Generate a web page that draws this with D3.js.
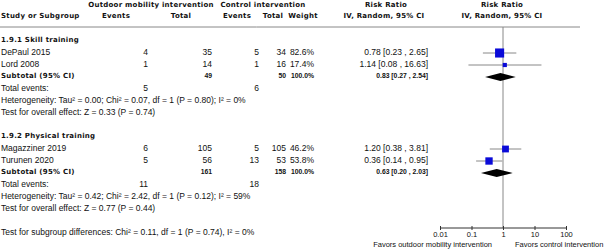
<!DOCTYPE html>
<html>
<head>
<meta charset="utf-8">
<script src="https://cdn.jsdelivr.net/npm/d3@7"></script>
<style>
  body { margin: 0; background: #fff; }
  text { font-family: "Liberation Sans", Arial, sans-serif; fill: #111; }
  .hd { font-family: "DejaVu Sans", sans-serif; font-weight: bold; font-size: 7px; letter-spacing: 0.25px; }
  .sb { font-family: "Liberation Sans", Arial, sans-serif; font-weight: bold; }
</style>
</head>
<body>
<div id="chart"></div>
<script>
// ---- data ----
const groupNames = ["1.9.1 Skill training", "1.9.2 Physical training"];
const studyNames = ["DePaul 2015", "Lord 2008", "Magazziner 2019", "Turunen 2020"];
const studyGroup = [0, 0, 1, 1];
const expEvents = [4, 1, 6, 5];
const expTotal = [35, 14, 105, 56];
const ctrlEvents = [5, 1, 5, 13];
const ctrlTotal = [34, 16, 105, 53];
const weights = [82.6, 17.4, 46.2, 53.8];
const rr = [0.78, 1.14, 1.20, 0.36];
const rrLow = [0.23, 0.08, 0.38, 0.14];
const rrHigh = [2.65, 16.63, 3.81, 0.95];

const subExpTotal = [49, 161];
const subCtrlTotal = [50, 158];
const subExpEvents = [5, 11];
const subCtrlEvents = [6, 18];
const subRR = [0.83, 0.63];
const subLow = [0.27, 0.20];
const subHigh = [2.54, 2.03];
const heterogeneity = [
  "Heterogeneity: Tau² = 0.00; Chi² = 0.07, df = 1 (P = 0.80); I² = 0%",
  "Heterogeneity: Tau² = 0.42; Chi² = 2.42, df = 1 (P = 0.12); I² = 59%"
];
const overallTest = [
  "Test for overall effect: Z = 0.33 (P = 0.74)",
  "Test for overall effect: Z = 0.77 (P = 0.44)"
];
const subgroupTest = "Test for subgroup differences: Chi² = 0.11, df = 1 (P = 0.74), I² = 0%";
const axisTicks = [0.01, 0.1, 1, 10, 100];
const favorLabels = ["Favors outdoor mobility intervention", "Favors control intervention"];

const width = 606, height = 250;
const svg = d3.select("#chart").append("svg")
  .attr("width", width).attr("height", height);

// row index -> y
const rowY = d3.scaleLinear().domain([0, 16]).range([40, 232]);
// forest x (log)
const xScale = d3.scaleLog().domain([0.01, 100]).range([440, 566]);

// column right edges
const col = { expEv: 148, expTot: 212, ctrlEv: 259, ctrlTot: 286, weight: 314, ci: 428 };
const fmt2 = d3.format(".2f");
const ciText = (m, l, h) => `${fmt2(m)} [${fmt2(l)} , ${fmt2(h)}]`;

// ==== header ====
const hdr = [
  { t: "Outdoor mobility intervention", x: 151, y: 5 },
  { t: "Control intervention", x: 263, y: 5 },
  { t: "Risk Ratio", x: 386, y: 5 },
  { t: "Risk Ratio", x: 502, y: 5 },
  { t: "Events", x: 116, y: 16 },
  { t: "Total", x: 181, y: 16 },
  { t: "Events", x: 237, y: 16 },
  { t: "Total", x: 273, y: 16 },
  { t: "Weight", x: 303, y: 16 },
  { t: "IV, Random, 95% CI", x: 384, y: 16 },
  { t: "IV, Random, 95% CI", x: 502, y: 16 }
];
svg.selectAll("text.h").data(hdr).enter().append("text")
  .attr("class", "hd").attr("x", d => d.x).attr("y", d => d.y)
  .attr("dy", "0.35em").attr("text-anchor", "middle").text(d => d.t);
svg.append("text").attr("class", "hd").attr("x", 1).attr("y", 16)
  .attr("dy", "0.35em").text("Study or Subgroup");

svg.append("line").attr("x1", 0).attr("x2", 580).attr("y1", 27).attr("y2", 27)
  .attr("stroke", "#888").attr("stroke-width", 1);

// helper
function txt(x, row, s, opts = {}) {
  return svg.append("text")
    .attr("x", x).attr("y", rowY(row)).attr("dy", "0.35em")
    .attr("text-anchor", opts.anchor || "end")
    .attr("class", opts.cls || null)
    .style("font-size", opts.size || "8.5px")
    .text(s);
}

// vertical line at RR = 1
svg.append("line")
  .attr("x1", xScale(1)).attr("x2", xScale(1))
  .attr("y1", 27).attr("y2", 228)
  .attr("stroke", "#888").attr("stroke-width", 1);

// ==== groups ====
const groupStart = [0, 8];
groupNames.forEach((g, gi) => {
  const r0 = groupStart[gi];
  txt(1, r0, g, { anchor: "start", cls: "hd", size: "7px" });
  const idx = studyNames.map((_, i) => i).filter(i => studyGroup[i] === gi);
  idx.forEach((i, k) => {
    const r = r0 + 1 + k;
    txt(1, r, studyNames[i], { anchor: "start" });
    txt(col.expEv, r, expEvents[i]);
    txt(col.expTot, r, expTotal[i]);
    txt(col.ctrlEv, r, ctrlEvents[i]);
    txt(col.ctrlTot, r, ctrlTotal[i]);
    txt(col.weight, r, weights[i].toFixed(1) + "%");
    txt(col.ci, r, ciText(rr[i], rrLow[i], rrHigh[i]));
    const y = rowY(r) + 1;
    svg.append("line")
      .attr("x1", xScale(rrLow[i])).attr("x2", xScale(rrHigh[i]))
      .attr("y1", y).attr("y2", y)
      .attr("stroke", "#888").attr("stroke-width", 1);
    const s = Math.sqrt(weights[i]);
    svg.append("rect")
      .attr("x", xScale(rr[i]) - s / 2).attr("y", y - s / 2)
      .attr("width", s).attr("height", s)
      .attr("fill", "#0a0ad8");
  });
  const rs = r0 + 1 + idx.length;
  txt(1, rs, "Subtotal (95% CI)", { anchor: "start", cls: "hd", size: "7px" });
  txt(col.expTot, rs, subExpTotal[gi], { cls: "sb", size: "6.8px" });
  txt(col.ctrlTot, rs, subCtrlTotal[gi], { cls: "sb", size: "6.8px" });
  txt(col.weight, rs, "100.0%", { cls: "sb", size: "6.8px" });
  txt(col.ci, rs, ciText(subRR[gi], subLow[gi], subHigh[gi]), { cls: "sb", size: "6.8px" });
  const yd = rowY(rs) + 1;
  const dpts = [
    [xScale(subLow[gi]), yd], [xScale(subRR[gi]), yd - 4],
    [xScale(subHigh[gi]), yd], [xScale(subRR[gi]), yd + 4]
  ];
  svg.append("polygon").attr("points", dpts.map(p => p.join(",")).join(" "))
    .attr("fill", "#000");

  txt(1, rs + 1, "Total events:", { anchor: "start" });
  txt(col.expEv, rs + 1, subExpEvents[gi]);
  txt(col.ctrlEv, rs + 1, subCtrlEvents[gi]);
  txt(1, rs + 2, heterogeneity[gi], { anchor: "start" });
  txt(1, rs + 3, overallTest[gi], { anchor: "start" });
});

txt(1, 16, subgroupTest, { anchor: "start" });

// ==== axis ====
const axisY = 228;
const ax = svg.append("g").attr("transform", `translate(0,${axisY})`)
  .call(d3.axisBottom(xScale).tickValues(axisTicks).tickSize(2)
    .tickFormat(d => String(d)));
ax.select(".domain").attr("stroke", "#333").attr("d", `M${xScale(0.01)},0H${xScale(100)}`);
ax.selectAll(".tick line").attr("y1", -2).attr("y2", 2).attr("stroke", "#333");
ax.selectAll(".tick text").attr("y", 4).style("font-size", "7.5px")
  .style("font-family", "Liberation Sans, Arial, sans-serif").attr("fill", "#111");

svg.append("text").attr("x", 492).attr("y", 244).attr("dy", "0.35em")
  .attr("text-anchor", "end").style("font-size", "7.5px").text(favorLabels[0]);
svg.append("text").attr("x", 515).attr("y", 244).attr("dy", "0.35em")
  .attr("text-anchor", "start").style("font-size", "7.5px").text(favorLabels[1]);
</script>
</body>
</html>
